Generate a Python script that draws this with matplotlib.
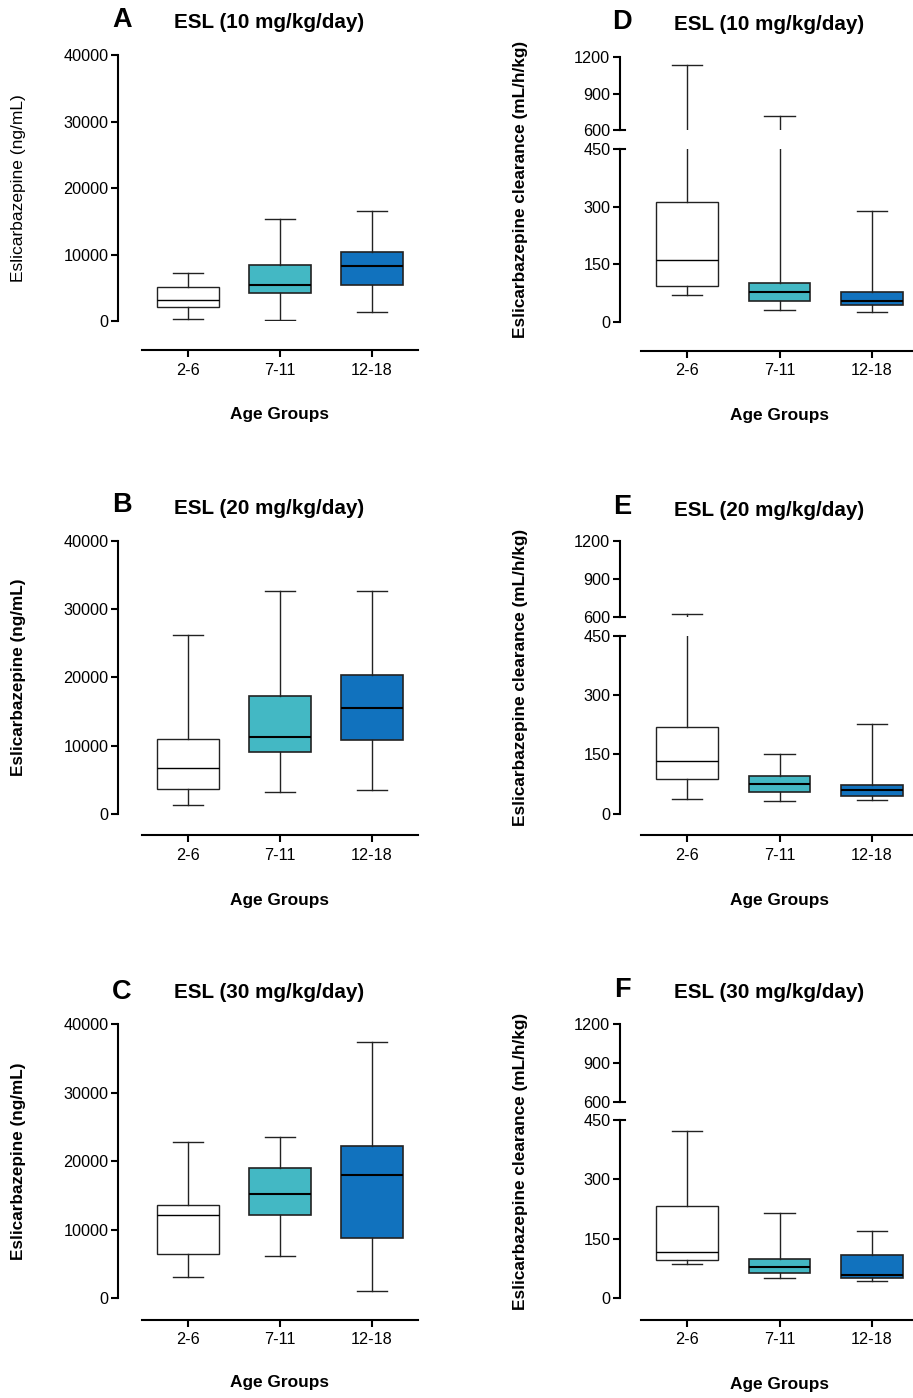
import matplotlib
matplotlib.use('Agg')
import matplotlib.pyplot as plt
from matplotlib.lines import Line2D

plt.rcParams['font.family'] = ['Liberation Sans', 'DejaVu Sans']

# ---------------- data (whisker low, Q1, median, Q3, whisker high) ----------------
groups = ['2-6', '7-11', '12-18']
conc_10mg = [[350, 2150, 3150, 5150, 7200],
             [200, 4250, 5450, 8450, 15400],
             [1400, 5400, 8350, 10350, 16600]]
conc_20mg = [[1270, 3660, 6680, 10980, 26200],
             [3270, 9020, 11220, 17220, 32630],
             [3560, 10780, 15460, 20290, 32630]]
conc_30mg = [[3070, 6520, 12120, 13580, 22770],
             [6230, 12120, 15180, 19080, 23600],
             [1020, 8810, 18050, 22240, 37420]]
cl_10mg = [[70, 94, 162, 313, 1134],
           [30, 53, 78, 100, 719],
           [25, 43.5, 53, 77.5, 290]]
cl_20mg = [[36, 88, 133, 220, 621],
           [32, 54, 74, 96, 152],
           [34, 45.5, 60, 73, 227]]
cl_30mg = [[87.5, 97.5, 118, 234, 421],
           [52, 64, 79, 100, 215],
           [43, 51, 59, 109, 170]]
conc_yticks = [0, 10000, 20000, 30000, 40000]
cl_low_yticks = [0, 150, 300, 450]
cl_high_yticks = [600, 900, 1200]
doses = ['ESL (10 mg/kg/day)', 'ESL (20 mg/kg/day)', 'ESL (30 mg/kg/day)']

box_colors = ['white', '#43B8C4', '#1172BE']
W, H = 913, 1398
PX2PT = 0.72
TICK_FS = 11.7
TITLE_FS = 14.9
LETTER_FS = 19.5
AGE_FS = 12.4
fig = plt.figure(figsize=(W / 100, H / 100), dpi=100)


def add_ax(x0, ytop, x1, ybot):
    return fig.add_axes([x0 / W, 1 - ybot / H, (x1 - x0) / W, (ybot - ytop) / H])


def draw_boxes(ax, stats):
    bstats = [dict(whislo=s[0], q1=s[1], med=s[2], q3=s[3], whishi=s[4], label=g)
              for s, g in zip(stats, groups)]
    lc = '#222222'
    art = ax.bxp(bstats, positions=[0, 1, 2], widths=0.67, patch_artist=True,
                 showfliers=False, manage_ticks=False,
                 boxprops=dict(edgecolor=lc, linewidth=1.0),
                 whiskerprops=dict(color=lc, linewidth=1.0),
                 capprops=dict(color=lc, linewidth=1.0),
                 medianprops=dict(color='black', linewidth=1.0))
    for i, (patch, c) in enumerate(zip(art['boxes'], box_colors)):
        patch.set_facecolor(c)
        if i > 0:
            art['medians'][i].set_linewidth(1.5)
            patch.set_linewidth(1.2)


def style_left(ax):
    for s in ['top', 'right']:
        ax.spines[s].set_visible(False)
    ax.spines['left'].set_linewidth(1.5)
    ax.tick_params(axis='y', length=5, width=1.5, labelsize=TICK_FS, pad=2)
    ax.tick_params(axis='x', length=5, width=1.5, labelsize=TICK_FS, pad=4)


def conc_panel(stats, top, zero, xaxis, letter, title, ly, ty, agey, bold_label):
    ax = add_ax(118, top, 418, zero)
    draw_boxes(ax, stats)
    ax.set_xlim(-0.761, 2.5)
    ax.set_ylim(0, 40000)
    style_left(ax)
    ax.spines['bottom'].set_position(('outward', (xaxis - zero) * PX2PT))
    ax.spines['bottom'].set_bounds(-0.5, 2.5)
    ax.spines['bottom'].set_linewidth(1.5)
    ax.set_yticks(conc_yticks)
    ax.set_xticks([0, 1, 2])
    ax.set_xticklabels(groups)
    fig.text(122 / W, 1 - ly / H, letter, fontsize=LETTER_FS, fontweight='bold', ha='center', va='center')
    fig.text(269 / W, 1 - ty / H, title, fontsize=TITLE_FS, fontweight='bold', ha='center', va='center')
    fig.text(279 / W, 1 - agey / H, 'Age Groups', fontsize=AGE_FS, fontweight='bold', ha='center', va='center')
    fig.text(19 / W, 1 - (top + zero) / 2 / H, 'Eslicarbazepine (ng/mL)', rotation=90,
             fontsize=12.5 if not bold_label else 12.3,
             fontweight='bold' if bold_label else 'normal', ha='center', va='center')


def cl_panel(stats, y1200, y600, y450, zero, xaxis, letter, title, ly, ty, agey):
    xl = (-(687 - 620) / 92.5, (918 - 687) / 92.5)
    lo = add_ax(620, y450, 918, zero)
    hi = add_ax(620, y1200, 918, y600)
    for ax in (lo, hi):
        draw_boxes(ax, stats)
        ax.set_xlim(*xl)
        style_left(ax)
    lo.set_ylim(0, 450)
    hi.set_ylim(600, 1200)
    lo.set_yticks(cl_low_yticks)
    hi.set_yticks(cl_high_yticks)
    lo.spines['bottom'].set_position(('outward', (xaxis - zero) * PX2PT))
    lo.spines['bottom'].set_bounds(-0.5, 2.5)
    lo.spines['bottom'].set_linewidth(1.5)
    lo.set_xticks([0, 1, 2])
    lo.set_xticklabels(groups)
    hi.spines['bottom'].set_visible(False)
    hi.set_xticks([])
    # break marks crossing the axis
    for ax, yv, hpx in ((hi, 600, 918 - 620), (lo, 450, 918 - 620)):
        ax.add_line(Line2D([0, 5 / hpx], [yv, yv], transform=ax.get_yaxis_transform(),
                           color='black', linewidth=1.5, clip_on=False))
    fig.text(622 / W, 1 - ly / H, letter, fontsize=LETTER_FS, fontweight='bold', ha='center', va='center')
    fig.text(769 / W, 1 - ty / H, title, fontsize=TITLE_FS, fontweight='bold', ha='center', va='center')
    fig.text(780 / W, 1 - agey / H, 'Age Groups', fontsize=AGE_FS, fontweight='bold', ha='center', va='center')
    fig.text(520 / W, 1 - (y1200 + zero) / 2 / H, 'Eslicarbazepine clearance (mL/h/kg)', rotation=90,
             fontsize=12.4, fontweight='bold', ha='center', va='center')


conc_panel(conc_10mg, 55, 321.3, 350.3, 'A', doses[0], 20, 23, 415, False)
conc_panel(conc_20mg, 540.7, 814, 835.3, 'B', doses[1], 505, 508, 900, True)
conc_panel(conc_30mg, 1024.3, 1298.3, 1319.7, 'C', doses[2], 992, 993, 1383, True)

cl_panel(cl_10mg, 57, 130, 149.3, 321.7, 350.7, 'D', doses[0], 22, 25, 416)
cl_panel(cl_20mg, 541, 617, 635.7, 813.7, 835.3, 'E', doses[1], 507, 510, 901)
cl_panel(cl_30mg, 1024.3, 1101.7, 1120, 1298.3, 1319.7, 'F', doses[2], 990, 993, 1384)

fig.savefig('out.png', dpi=100)
